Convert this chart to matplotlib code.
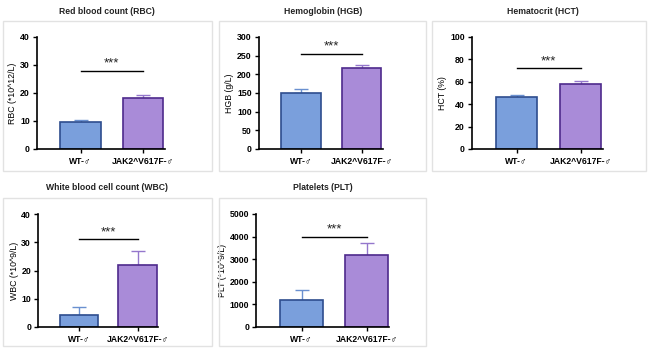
import matplotlib
matplotlib.use("Agg")
import matplotlib.pyplot as plt
from matplotlib.patches import Rectangle

W, H = 650, 350

groups = ["WT-\u2642", "JAK2^V617F-\u2642"]
titles = ["Red blood count (RBC)", "Hemoglobin (HGB)", "Hematocrit (HCT)",
          "White blood cell count (WBC)", "Platelets (PLT)"]
ylabels = ["RBC (*10^12/L)", "HGB (g/L)", "HCT (%)", "WBC (*10^9/L)", "PLT (*10^9/L)"]
means = [[9.8, 18.3], [150, 217], [46, 58], [4.3, 22], [1200, 3180]]
errs = [[0.5, 1.0], [12, 7], [2.5, 3.0], [2.7, 4.8], [420, 520]]
sig_y = [28, 255, 72, 31, 4000]
ymax = [40, 300, 100, 40, 5000]
ystep = [10, 50, 20, 10, 1000]

fill = ["#7a9fdc", "#a98bd8"]
edge = ["#2e4d8e", "#4e2a8c"]
errc = ["#6a90d0", "#9477cc"]

# layout in pixels: (centre WT, centre JAK2, top, bottom)
axpos = [(80.5, 143, 37, 149), (301, 361.5, 37, 149), (516.5, 580.5, 37, 149),
         (79, 137.5, 214, 327), (301.5, 366.5, 214, 327)]
boxes = [(3, 21, 212, 171), (219, 21, 426, 171), (432, 21, 646, 171),
         (3, 198, 212, 346), (219, 198, 426, 346)]
title_xy = [(107, 11), (323, 11), (543, 11), (107, 188), (323, 188)]

plt.rcParams["font.family"] = ["Liberation Sans", "DejaVu Sans"]
fig = plt.figure(figsize=(W / 100, H / 100), dpi=100)

for i in range(5):
    x0, y0, x1, y1 = boxes[i]
    fig.patches.append(Rectangle((x0 / W, 1 - y1 / H), (x1 - x0) / W, (y1 - y0) / H,
                                 transform=fig.transFigure, fill=False,
                                 edgecolor="#e2e2e2", lw=1))
    tx, ty = title_xy[i]
    fig.text(tx / W, 1 - ty / H, titles[i], ha="center", va="center",
             fontsize=6.2, fontweight="bold", color="#222222")

    c0, c1, top, bot = axpos[i]
    s = c1 - c0
    left = c0 - 0.7 * s
    ax = fig.add_axes([left / W, 1 - bot / H, 2.05 * s / W, (bot - top) / H])
    ax.bar([0, 1], means[i], width=0.65, color=fill, edgecolor=edge, lw=1.2, zorder=2)
    for j in range(2):
        ax.errorbar([j], [means[i][j]], yerr=[[0], [errs[i][j]]], fmt="none",
                    ecolor=errc[j], elinewidth=1, capsize=5, capthick=1, zorder=1)
    ax.set_xlim(-0.7, 1.35)
    ax.set_ylim(0, ymax[i])
    ax.set_yticks(range(0, ymax[i] + 1, ystep[i]))
    ax.set_xticks([0, 1])
    ax.set_xticklabels(groups)
    ax.set_ylabel(ylabels[i], fontsize=6.3, labelpad=2)
    ax.tick_params(axis="y", labelsize=6.3, length=3, width=1, pad=2)
    ax.tick_params(axis="x", labelsize=6.2, length=3, width=1, pad=3)
    for lab in ax.get_yticklabels() + ax.get_xticklabels():
        lab.set_fontweight("bold")
    for sp in ["top", "right"]:
        ax.spines[sp].set_visible(False)
    for sp in ["left", "bottom"]:
        ax.spines[sp].set_linewidth(1.2)
    ax.plot([0, 1], [sig_y[i], sig_y[i]], color="black", lw=1, clip_on=False)
    ax.text(0.5, sig_y[i] + ymax[i] * 0.01, "***", ha="center", va="bottom",
            fontsize=9.5, color="#222222")

fig.savefig("out.png", dpi=100)
